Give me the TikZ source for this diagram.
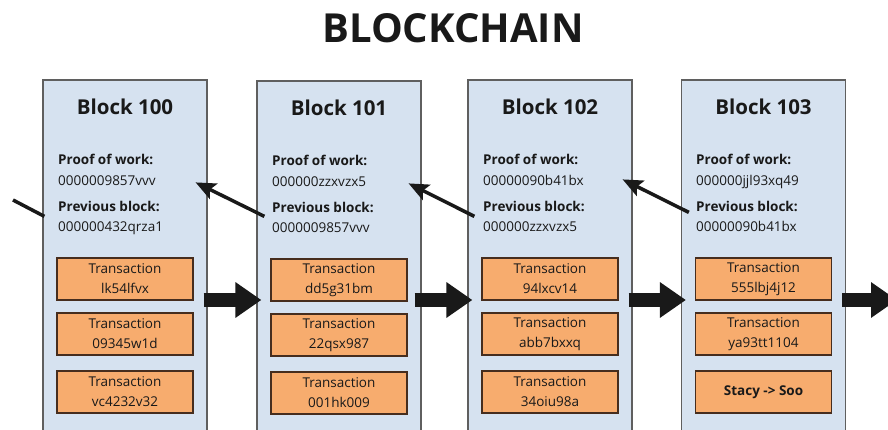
\documentclass[tikz,border=0pt]{standalone}
\usepackage{fontspec}
\setmainfont{Open Sans}
\usetikzlibrary{arrows.meta,calc}
\definecolor{blockfill}{RGB}{214,226,240}
\definecolor{blockline}{RGB}{95,95,95}
\definecolor{txfill}{RGB}{247,172,110}
\definecolor{txline}{RGB}{70,45,30}
\definecolor{ink}{RGB}{25,25,25}
\begin{document}
\begin{tikzpicture}[x=1pt,y=-1pt,
  titletext/.style={font=\fontsize{40}{40}\selectfont\bfseries, text=ink, inner sep=0},
  blockbox/.style={draw=blockline, line width=1.2pt, fill=blockfill, minimum width=164pt, minimum height=360pt, inner sep=0},
  blocktitle/.style={font=\fontsize{20.5}{20.5}\selectfont\bfseries, text=ink, inner sep=0, anchor=base},
  lblbold/.style={font=\fontsize{13.5}{13.5}\selectfont\bfseries, text=ink, inner sep=0, anchor=base west},
  lblval/.style={font=\fontsize{13.5}{13.5}\selectfont, text=ink, inner sep=0, anchor=base west},
  txbox/.style={draw=txline, line width=1.2pt, fill=txfill, minimum width=136pt, minimum height=42pt, inner sep=0, align=center, text=ink, font=\fontsize{13.5}{20}\selectfont},
  bigarrow/.style={draw=ink, line width=14pt, -{Triangle[length=26pt,width=34pt]}},
  linkarrow/.style={draw=ink, line width=3.5pt, -{Stealth[length=20pt,width=17pt,inset=4pt]}},
  stub/.style={draw=ink, line width=3.5pt}
]
\useasboundingbox (0,0) rectangle (888,430);
\clip (0,0) rectangle (888,430);
\fill[white] (0,0) rectangle (888,430);

\node[titletext] (title) at (453,28) {BLOCKCHAIN};

% Blocks
\node[blockbox] (b100) at (125,260) {};
\node[blockbox] (b101) at (339,261) {};
\node[blockbox] (b102) at (550,260) {};
\node[blockbox] (b103) at (763.5,260) {};

% Block 100
\node[blocktitle] (t100) at (125,115) {Block 100};
\node[lblbold] (pw100) at (58,165) {Proof of work:};
\node[lblval] (pv100) at (58,186) {0000009857vvv};
\node[lblbold] (pb100) at (58,212) {Previous block:};
\node[lblval] (pbv100) at (58,232) {000000432qrza1};
\node[txbox] (x100a) at (125,279) {Transaction\\lk54lfvx};
\node[txbox] (x100b) at (125,334) {Transaction\\09345w1d};
\node[txbox] (x100c) at (125,392) {Transaction\\vc4232v32};

% Block 101
\node[blocktitle] (t101) at (339,116) {Block 101};
\node[lblbold] (pw101) at (272,166) {Proof of work:};
\node[lblval] (pv101) at (272,187) {000000zzxvzx5};
\node[lblbold] (pb101) at (272,213) {Previous block:};
\node[lblval] (pbv101) at (272,233) {0000009857vvv};
\node[txbox] (x101a) at (339,280) {Transaction\\dd5g31bm};
\node[txbox] (x101b) at (339,335) {Transaction\\22qsx987};
\node[txbox] (x101c) at (339,393) {Transaction\\001hk009};

% Block 102
\node[blocktitle] (t102) at (550,115) {Block 102};
\node[lblbold] (pw102) at (483,165) {Proof of work:};
\node[lblval] (pv102) at (483,186) {00000090b41bx};
\node[lblbold] (pb102) at (483,212) {Previous block:};
\node[lblval] (pbv102) at (483,232) {000000zzxvzx5};
\node[txbox] (x102a) at (550,279) {Transaction\\94lxcv14};
\node[txbox] (x102b) at (550,334) {Transaction\\abb7bxxq};
\node[txbox] (x102c) at (550,392) {Transaction\\34oiu98a};

% Block 103
\node[blocktitle] (t103) at (763.5,115) {Block 103};
\node[lblbold] (pw103) at (696,165) {Proof of work:};
\node[lblval] (pv103) at (696,186) {000000jjl93xq49};
\node[lblbold] (pb103) at (696,212) {Previous block:};
\node[lblval] (pbv103) at (696,232) {00000090b41bx};
\node[txbox] (x103a) at (763.5,279) {Transaction\\555lbj4j12};
\node[txbox] (x103b) at (763.5,334) {Transaction\\ya93tt1104};
\node[txbox, font=\fontsize{13.5}{20}\selectfont\bfseries] (x103c) at (763.5,392) {Stacy -> Soo};

% Thick chain arrows
\path (b100.east |- 0,300) coordinate (a0s) (b101.west |- 0,300) coordinate (a0e);
\path (b101.east |- 0,300) coordinate (a1s) (b102.west |- 0,300) coordinate (a1e);
\path (b102.east |- 0,300) coordinate (a2s) (b103.west |- 0,300) coordinate (a2e);
\path (b103.east |- 0,300) coordinate (a3s);
\coordinate (a3e) at (897,300);
\draw[bigarrow] ($(a0s)+(-4,0)$) -- ($(a0e)+(5,0)$);
\draw[bigarrow] ($(a1s)+(-7,0)$) -- ($(a1e)+(5,0)$);
\draw[bigarrow] ($(a2s)+(-4,0)$) -- ($(a2e)+(5,0)$);
\draw[bigarrow] ($(a3s)+(-4,0)$) -- (a3e);

% Thin hash links
\coordinate (stubfree) at (13,200);
\draw[stub] (stubfree) -- ($(b100.north west)+(2,137)$);
\draw[linkarrow] ($(b101.north west)+(8,136)$) -- ($(b100.north east)+(-12,103)$);
\draw[linkarrow] ($(b102.north west)+(7,137)$) -- ($(b101.north east)+(-13,103)$);
\draw[linkarrow] ($(b103.north west)+(8,133)$) -- ($(b102.north east)+(-10,100)$);
\end{tikzpicture}
\end{document}
